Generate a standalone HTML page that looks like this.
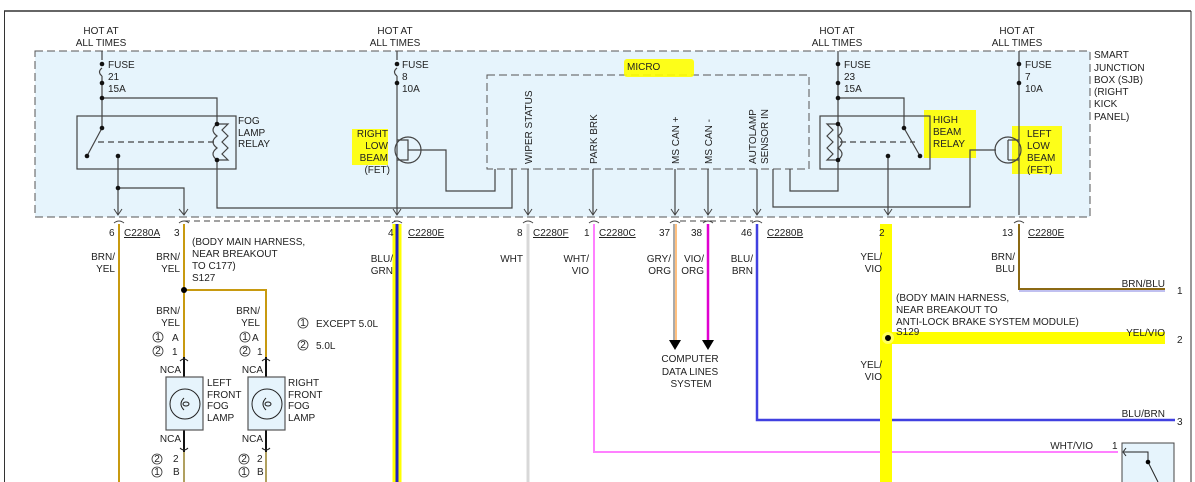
<!DOCTYPE html>
<html><head><meta charset="utf-8"><style>
html,body{margin:0;padding:0;background:#fff}
svg{display:block}
text{font-family:"Liberation Sans",sans-serif;font-size:10px;fill:#222}
.u{text-decoration:underline}
</style></head><body>
<svg width="1195" height="482" viewBox="0 0 1195 482" xmlns="http://www.w3.org/2000/svg">
<!-- frame -->
<line x1="4" y1="11" x2="1191" y2="11" stroke="#333" stroke-width="1.5"/>
<line x1="4.5" y1="11" x2="4.5" y2="482" stroke="#333" stroke-width="1"/>
<line x1="1191" y1="11" x2="1191" y2="482" stroke="#333" stroke-width="1"/>
<!-- SJB box -->
<rect x="35" y="51" width="1055" height="166" fill="#e6f4fc" stroke="#555" stroke-dasharray="8,4"/>
<rect x="487" y="75" width="322" height="94" fill="none" stroke="#555" stroke-dasharray="8,4"/>
<!-- highlights -->
<g fill="#ffff00" opacity="0.9">
<rect x="624" y="59" width="70" height="18" rx="3"/>
<rect x="352" y="129" width="36" height="36"/>
<rect x="924" y="110" width="52" height="48"/>
<rect x="1012" y="126" width="50" height="48"/>
</g>
<g fill="#222" font-size="10">
<text x="101" y="34" text-anchor="middle">HOT AT</text><text x="101" y="46" text-anchor="middle">ALL TIMES</text>
<text x="395" y="34" text-anchor="middle">HOT AT</text><text x="395" y="46" text-anchor="middle">ALL TIMES</text>
<text x="837" y="34" text-anchor="middle">HOT AT</text><text x="837" y="46" text-anchor="middle">ALL TIMES</text>
<text x="1017" y="34" text-anchor="middle">HOT AT</text><text x="1017" y="46" text-anchor="middle">ALL TIMES</text>
<text x="108" y="68">FUSE</text><text x="108" y="80">21</text><text x="108" y="92">15A</text>
<text x="402" y="68">FUSE</text><text x="402" y="80">8</text><text x="402" y="92">10A</text>
<text x="844" y="68">FUSE</text><text x="844" y="80">23</text><text x="844" y="92">15A</text>
<text x="1025" y="68">FUSE</text><text x="1025" y="80">7</text><text x="1025" y="92">10A</text>
<text x="238" y="124">FOG</text><text x="238" y="136">LAMP</text><text x="238" y="147">RELAY</text>
<text x="388" y="137" text-anchor="end">RIGHT</text><text x="388" y="149" text-anchor="end">LOW</text><text x="388" y="161" text-anchor="end">BEAM</text><text x="390" y="173" text-anchor="end">(FET)</text>
<text x="627" y="70">MICRO</text>
<text x="933" y="123">HIGH</text><text x="933" y="135">BEAM</text><text x="933" y="147">RELAY</text>
<text x="1027" y="137">LEFT</text><text x="1027" y="149">LOW</text><text x="1027" y="161">BEAM</text><text x="1027" y="173">(FET)</text>
<text x="1094" y="58">SMART</text><text x="1094" y="71">JUNCTION</text><text x="1094" y="83">BOX (SJB)</text><text x="1094" y="95">(RIGHT</text><text x="1094" y="107">KICK</text><text x="1094" y="120">PANEL)</text>
<text transform="translate(532,164) rotate(-90)">WIPER STATUS</text>
<text transform="translate(597,164) rotate(-90)">PARK BRK</text>
<text transform="translate(679,164) rotate(-90)">MS CAN +</text>
<text transform="translate(712,164) rotate(-90)">MS CAN -</text>
<text transform="translate(756,164) rotate(-90)">AUTOLAMP</text>
<text transform="translate(768,164) rotate(-90)">SENSOR IN</text>
</g>
<!-- SJB internal wiring -->
<g stroke="#444" stroke-width="1.2" fill="none">
<path d="M102 51V60 M102 68q-5 4 0 8 M102 76V128 L87 156"/>
<path d="M102 98H217V124"/>
<rect x="77" y="116" width="159" height="53"/>
<path d="M217 124H228L222 130L228 136L222 142L228 148L222 154L228 160H217"/>
<path d="M217 124q-8 6 0 12q-8 6 0 12q-8 6 0 12"/>
<path d="M98 142H215" stroke-dasharray="6,4"/>
<path d="M118 156V215 M118 188H184V215"/>
<path d="M217 160V208H512V169 M397 51V60 M397 68q-5 4 0 8 M397 76V215"/>
<circle cx="408" cy="150" r="13"/>
<path d="M397 140H408V160H397 M408 150H446V191H495V169"/>
<path d="M528 169V215 M593 169V215 M675 169V215 M708 169V215 M757 169V215"/>
<path d="M773 169V207H970V150H996"/>
<path d="M790 169V191H838V51"/>
<rect x="820" y="116" width="110" height="53"/>
<path d="M838 124H827L833 130L827 136L833 142L827 148L833 154L827 160H838"/>
<path d="M838 124q8 6 0 12q8 6 0 12q8 6 0 12"/>
<path d="M838 98H904V128L920 156"/>
<path d="M840 142H915" stroke-dasharray="6,4"/>
<path d="M888 156V215"/>
<circle cx="1008" cy="150" r="13"/>
<path d="M1019 51V215 M1008 140H1019 M1008 160H1019 M1008 140V160"/>
</g>
<g fill="#111">
<circle cx="102" cy="64" r="2.3"/><circle cx="102" cy="83" r="2.3"/><circle cx="102" cy="98" r="2.3"/><circle cx="102" cy="128" r="2.3"/><circle cx="87" cy="156" r="2.3"/><circle cx="118" cy="156" r="2.3"/><circle cx="118" cy="188" r="2.3"/><circle cx="217" cy="124" r="2.3"/><circle cx="217" cy="160" r="2.3"/>
<circle cx="397" cy="64" r="2.3"/><circle cx="397" cy="83" r="2.3"/>
<circle cx="838" cy="64" r="2.3"/><circle cx="838" cy="83" r="2.3"/><circle cx="838" cy="98" r="2.3"/><circle cx="838" cy="124" r="2.3"/><circle cx="838" cy="160" r="2.3"/><circle cx="904" cy="128" r="2.3"/><circle cx="920" cy="156" r="2.3"/><circle cx="888" cy="156" r="2.3"/>
<circle cx="1019" cy="64" r="2.3"/><circle cx="1019" cy="83" r="2.3"/>
</g>
<!-- arrow chevrons -->
<g stroke="#444" fill="none" stroke-width="1">
<path d="M114 209l4 6l4-6 M179 209l5 6l4-6 M393 209l4 6l4-6 M524 209l4 6l4-6 M589 209l4 6l4-6 M671 209l4 6l4-6 M704 209l4 6l4-6 M753 209l4 6l4-6 M884 209l4 6l4-6"/>
<path d="M114 223q5-4 10 0 M179 223q5-4 10 0 M392 223q5-4 10 0 M523 223q5-4 10 0 M589 223q5-4 10 0 M670 223q5-4 10 0 M703 223q5-4 10 0 M752 223q5-4 10 0 M1014 223q5-4 10 0"/>
<path d="M184 221H397 M680 221H753" stroke-dasharray="6,4"/>
</g>
<!-- wires -->
<g fill="none">
<path d="M119 224V482" stroke="#c89a10" stroke-width="2"/>
<path d="M184 224V357 M184 290H266V357" stroke="#c89a10" stroke-width="2"/>
<path d="M184 357V452 M266 357V452" stroke="#111" stroke-width="2"/>
<path d="M184 452V482 M266 452V482" stroke="#b0a060" stroke-width="2"/>
<path d="M397 224V482" stroke="#ffff00" stroke-width="9"/>
<path d="M397 224V482" stroke="#2020c0" stroke-width="3"/>
<path d="M528 224V482" stroke="#d8d8d8" stroke-width="3"/>
<path d="M594 224V452H1118" stroke="#ff80ff" stroke-width="2"/>
<path d="M674 224V340" stroke="#aaa" stroke-width="2"/>
<path d="M676 224V340" stroke="#ffc080" stroke-width="2"/>
<path d="M708 224V340" stroke="#e000d0" stroke-width="2.5"/>
<path d="M757 224V420H1175" stroke="#4040e0" stroke-width="2.5"/>
<path d="M886 224V482 M886 338H1165" stroke="#ffff00" stroke-width="12"/>
<path d="M1019 224V289H1165" stroke="#8b6914" stroke-width="2"/>
<path d="M1019 291H1165" stroke="#8080e0" stroke-width="1"/>
</g>
<path d="M669 340h12l-6 10z M702 340h12l-6 10z" fill="#000"/>
<circle cx="184" cy="290" r="3" fill="#000"/>
<circle cx="888" cy="338" r="6" fill="#ffff60"/><circle cx="888" cy="338" r="3" fill="#000"/>
<!-- fog lamps -->
<g stroke="#555" fill="#e6f4fc" stroke-width="1.2">
<rect x="166" y="377" width="37" height="53"/>
<rect x="248" y="377" width="37" height="53"/>
</g>
<g stroke="#222" fill="none" stroke-width="1">
<circle cx="185" cy="404" r="15"/><circle cx="267" cy="404" r="15"/>
<path d="M184 398q-6 6 0 12 M266 398q-6 6 0 12"/>
<ellipse cx="186" cy="404" rx="3" ry="2"/><ellipse cx="268" cy="404" rx="3" ry="2"/>
<path d="M180 361q4-4 8 0 M262 361q4-4 8 0 M180 448q4 4 8 0 M262 448q4 4 8 0"/>
</g>
<!-- bottom right switch box -->
<rect x="1122" y="443" width="52" height="42" fill="#e6f4fc" stroke="#444"/>
<path d="M1124 452H1148V462L1158 482 M1126 448l-3 4l3 4" stroke="#222" fill="none"/>
<circle cx="1148" cy="462" r="2.3" fill="#000"/>
<g fill="#222">
<text x="109" y="236">6</text><text x="124" y="236" class="u">C2280A</text>
<text x="174" y="236">3</text>
<text x="388" y="236">4</text><text x="408" y="236" class="u">C2280E</text>
<text x="517" y="236">8</text><text x="533" y="236" class="u">C2280F</text>
<text x="584" y="236">1</text><text x="599" y="236" class="u">C2280C</text>
<text x="659" y="236">37</text><text x="691" y="236">38</text><text x="741" y="236">46</text><text x="767" y="236" class="u">C2280B</text>
<text x="879" y="236">2</text>
<text x="1002" y="236">13</text><text x="1028" y="236" class="u">C2280E</text>
<text x="115" y="260" text-anchor="end">BRN/</text><text x="115" y="272" text-anchor="end">YEL</text>
<text x="180" y="260" text-anchor="end">BRN/</text><text x="180" y="272" text-anchor="end">YEL</text>
<text x="192" y="245">(BODY MAIN HARNESS,</text><text x="192" y="257">NEAR BREAKOUT</text><text x="192" y="269">TO C177)</text><text x="192" y="281">S127</text>
<text x="180" y="314" text-anchor="end">BRN/</text><text x="180" y="326" text-anchor="end">YEL</text>
<text x="260" y="314" text-anchor="end">BRN/</text><text x="260" y="326" text-anchor="end">YEL</text>
<text x="172" y="341">A</text><text x="172" y="355">1</text>
<text x="252" y="341">A</text><text x="257" y="355">1</text>
<text x="316" y="327">EXCEPT 5.0L</text><text x="316" y="349">5.0L</text>
<text x="181" y="373" text-anchor="end">NCA</text><text x="263" y="373" text-anchor="end">NCA</text>
<text x="207" y="386">LEFT</text><text x="207" y="398">FRONT</text><text x="207" y="409">FOG</text><text x="207" y="421">LAMP</text>
<text x="288" y="386">RIGHT</text><text x="288" y="398">FRONT</text><text x="288" y="409">FOG</text><text x="288" y="421">LAMP</text>
<text x="181" y="442" text-anchor="end">NCA</text><text x="263" y="442" text-anchor="end">NCA</text>
<text x="173" y="462">2</text><text x="173" y="475">B</text><text x="257" y="462">2</text><text x="257" y="475">B</text>
<text x="393" y="262" text-anchor="end">BLU/</text><text x="393" y="274" text-anchor="end">GRN</text>
<text x="523" y="262" text-anchor="end">WHT</text>
<text x="589" y="262" text-anchor="end">WHT/</text><text x="589" y="274" text-anchor="end">VIO</text>
<text x="671" y="262" text-anchor="end">GRY/</text><text x="671" y="274" text-anchor="end">ORG</text>
<text x="704" y="262" text-anchor="end">VIO/</text><text x="704" y="274" text-anchor="end">ORG</text>
<text x="753" y="262" text-anchor="end">BLU/</text><text x="753" y="274" text-anchor="end">BRN</text>
<text x="690" y="362" text-anchor="middle">COMPUTER</text><text x="690" y="375" text-anchor="middle">DATA LINES</text><text x="691" y="387" text-anchor="middle">SYSTEM</text>
<text x="882" y="260" text-anchor="end">YEL/</text><text x="882" y="272" text-anchor="end">VIO</text>
<text x="1015" y="260" text-anchor="end">BRN/</text><text x="1015" y="272" text-anchor="end">BLU</text>
<text x="1165" y="287" text-anchor="end">BRN/BLU</text><text x="1177" y="294">1</text>
<text x="896" y="301">(BODY MAIN HARNESS,</text><text x="896" y="313">NEAR BREAKOUT TO</text><text x="896" y="325">ANTI-LOCK BRAKE SYSTEM MODULE)</text><text x="896" y="335">S129</text>
<text x="1165" y="336" text-anchor="end">YEL/VIO</text><text x="1177" y="343">2</text>
<text x="882" y="368" text-anchor="end">YEL/</text><text x="882" y="380" text-anchor="end">VIO</text>
<text x="1165" y="417" text-anchor="end">BLU/BRN</text><text x="1177" y="425">3</text>
<text x="1093" y="449" text-anchor="end">WHT/VIO</text><text x="1112" y="449">1</text>
</g>
<g fill="none" stroke="#333" stroke-width="0.8">
<circle cx="158" cy="337" r="5"/><circle cx="158" cy="351" r="5"/>
<circle cx="245" cy="337" r="5"/><circle cx="245" cy="351" r="5"/>
<circle cx="303" cy="323" r="5"/><circle cx="303" cy="345" r="5"/>
<circle cx="157" cy="459" r="5"/><circle cx="157" cy="472" r="5"/>
<circle cx="244" cy="459" r="5"/><circle cx="244" cy="472" r="5"/>
</g>
<g font-size="7" text-anchor="middle">
<text x="158" y="340">1</text><text x="158" y="354">2</text><text x="245" y="340">1</text><text x="245" y="354">2</text>
<text x="303" y="326">1</text><text x="303" y="348">2</text>
<text x="157" y="462">2</text><text x="157" y="475">1</text><text x="244" y="462">2</text><text x="244" y="475">1</text>
</g>
</svg>
</body></html>
